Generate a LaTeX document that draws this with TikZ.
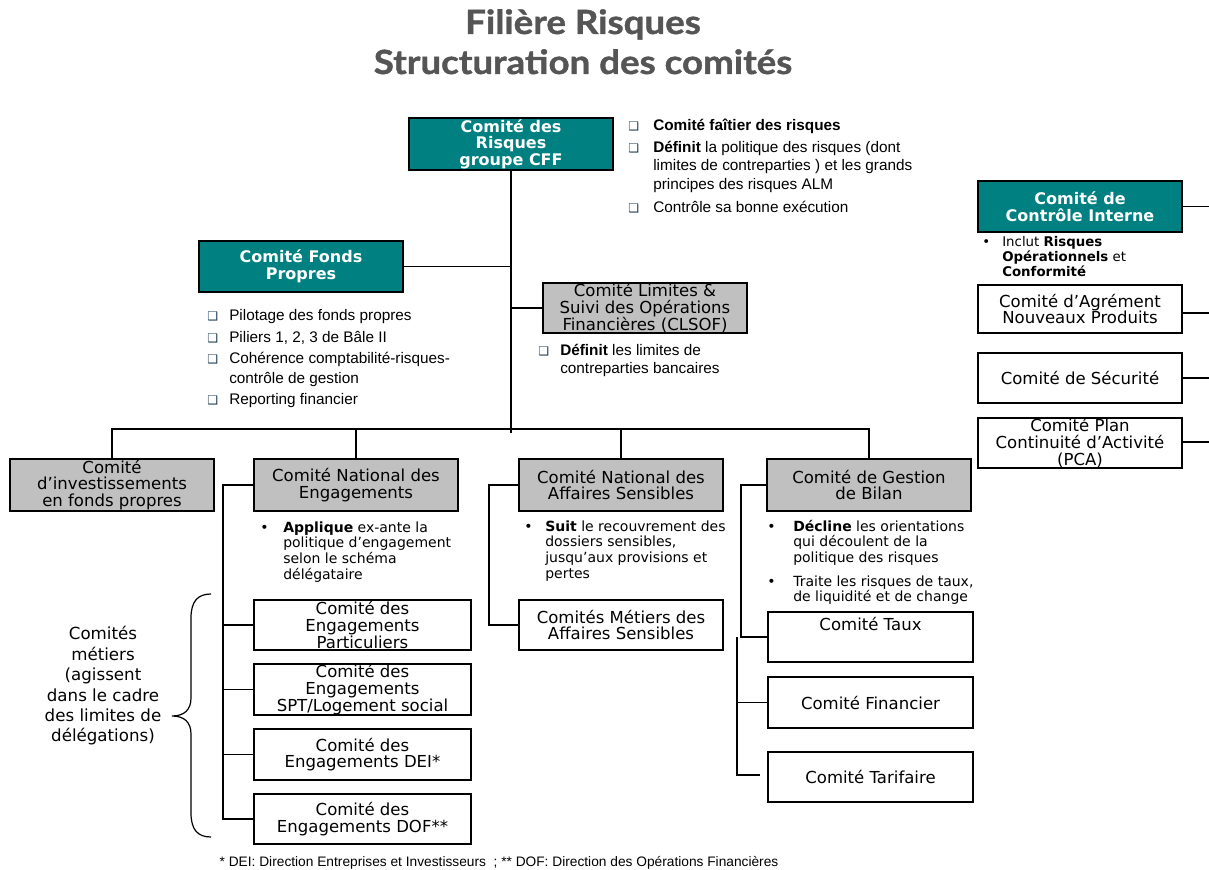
\documentclass[tikz,border=0pt]{standalone}
\usepackage{fontspec}
\setmainfont{DejaVu Sans}
\newfontfamily\dvf{DejaVu Sans}
\newfontfamily\ls{Liberation Sans}
\newfontfamily\lt{Lato}[FakeStretch=1.1, BoldFeatures={FakeBold=1.2}]
\definecolor{tealc}{RGB}{0,128,128}
\definecolor{grayc}{RGB}{192,192,192}
\definecolor{cbc}{RGB}{30,60,80}
\definecolor{titc}{RGB}{85,85,85}
\newcommand{\cbx}{{\dvf\fontsize{9}{9}\selectfont\color{cbc}\symbol{"2751}}}
\newcommand{\bul}{{\dvf\symbol{"2022}}}
\newcommand{\bitem}[4]{\makebox[#1][l]{#2}\parbox[t]{#3}{\raggedright #4}}
\begin{document}
\begin{tikzpicture}[x=0.75pt,y=-0.75pt,
  bx/.style={draw=black, line width=1pt, inner sep=0pt, align=center, text=black,
    font=\fontsize{12.4}{12.6}\selectfont, minimum width=153pt, minimum height=38.25pt},
  tealbx/.style={bx, fill=tealc, text=white, font=\fontsize{12}{12.4}\selectfont\bfseries},
  graybx/.style={bx, fill=grayc},
  whitebx/.style={bx, fill=white},
  widebx/.style={minimum width=162.75pt},
  ln/.style={line width=1pt, draw=black},
  txt/.style={inner sep=0pt, anchor=base west, text=black},
  cbtxt/.style={txt, font=\ls\fontsize{11.5}{14}\selectfont},
  dvtxt/.style={txt, font=\fontsize{10.5}{11.8}\selectfont},
  titlefont/.style={inner sep=0pt, anchor=base, text=titc, font=\lt\bfseries\fontsize{25}{25}\selectfont}
]
\useasboundingbox (0,0) rectangle (1209,870);
\fill[white] (0,0) rectangle (1209,870);

% title
\node[titlefont] (t1) at (583,34) {Filière Risques};
\node[titlefont] (t2) at (583,74) {Structuration des comités};

% boxes
\node[tealbx, minimum height=39pt] (cff) at (511,144) {Comité des\\Risques\\groupe CFF};
\node[tealbx] (fp) at (301,266.5) {Comité Fonds\\Propres};
\node[graybx, minimum height=37.5pt] (clsof) at (645,308) {Comité Limites \&\\Suivi des Opérations\\Financières (CLSOF)};
\node[tealbx] (ci) at (1080,206.5) {Comité de\\Contrôle Interne};
\node[whitebx, minimum height=36pt] (agr) at (1080,309) {Comité d’Agrément\\Nouveaux Produits};
\node[whitebx, minimum height=37.5pt] (sec) at (1080,378) {Comité de Sécurité};
\node[whitebx, minimum height=37.5pt] (pca) at (1080,443) {Comité Plan\\Continuité d’Activité\\(PCA)};

\node[graybx, minimum height=39pt] (inv) at (112,485) {Comité\\d’investissements\\en fonds propres};
\node[graybx, minimum height=39pt] (cne) at (356,485) {Comité National des\\Engagements};
\node[graybx, minimum height=39pt] (cnas) at (621,485) {Comité National des\\Affaires Sensibles};
\node[graybx, minimum height=39pt] (bil) at (869,485) {Comité de Gestion\\de Bilan};

\node[whitebx, widebx, minimum height=37.5pt] (part) at (362.5,625) {Comité des\\Engagements\\Particuliers};
\node[whitebx, widebx] (spt) at (362.5,689.5) {Comité des\\Engagements\\SPT/Logement social};
\node[whitebx, widebx] (dei) at (362.5,754.5) {Comité des\\Engagements DEI*};
\node[whitebx, widebx, minimum height=37.5pt] (dof) at (362.5,819) {Comité des\\Engagements DOF**};

\node[whitebx, minimum height=37.5pt] (met) at (621,625) {Comités Métiers des\\Affaires Sensibles};

\node[whitebx, minimum width=153.75pt, minimum height=37.5pt] (taux) at (870.5,637) {Comité Taux\\[3pt]\strut};
\node[whitebx, minimum width=153.75pt, minimum height=38.25pt] (fin) at (870.5,702.5) {Comité Financier};
\node[whitebx, minimum width=153.75pt, minimum height=37.5pt] (tar) at (870.5,777) {Comité Tarifaire};

% bullet texts
\node[cbtxt] (cffa) at (628,131) {\bitem{18.75pt}{\cbx}{230pt}{\textbf{Comité faîtier des risques}}};
\node[cbtxt] (cffb) at (628,152) {\bitem{18.75pt}{\cbx}{230pt}{\textbf{Définit} la politique des risques (dont\\limites de contreparties ) et les grands\\principes des risques ALM}};
\node[cbtxt] (cffc) at (628,212) {\bitem{18.75pt}{\cbx}{230pt}{Contrôle sa bonne exécution}};

\node[cbtxt, font=\ls\fontsize{11.5}{15}\selectfont] (fpa) at (207,320) {\bitem{16.5pt}{\cbx}{200pt}{Pilotage des fonds propres}};
\node[cbtxt, font=\ls\fontsize{11.5}{15}\selectfont] (fpb) at (207,342) {\bitem{16.5pt}{\cbx}{200pt}{Piliers 1, 2, 3 de Bâle II}};
\node[cbtxt, font=\ls\fontsize{11.5}{15}\selectfont] (fpc) at (207,363) {\bitem{16.5pt}{\cbx}{200pt}{Cohérence comptabilité-risques-\\contrôle de gestion}};
\node[cbtxt, font=\ls\fontsize{11.5}{15}\selectfont] (fpd) at (207,404) {\bitem{16.5pt}{\cbx}{200pt}{Reporting financier}};

\node[cbtxt, font=\ls\fontsize{11.5}{13.5}\selectfont] (cla) at (538,355) {\bitem{16.5pt}{\cbx}{200pt}{\textbf{Définit} les limites de\\contreparties bancaires}};

\node[txt, font=\fontsize{10}{11.6}\selectfont] (cia) at (982,246) {\bitem{15pt}{\bul}{160pt}{Inclut \textbf{Risques}\\\textbf{Opérationnels} et\\\textbf{Conformité}}};

\node[dvtxt] (cnea) at (260,532) {\bitem{17.25pt}{\bul}{170pt}{\textbf{Applique} ex-ante la\\politique d’engagement\\selon le schéma\\délégataire}};
\node[dvtxt] (cnasa) at (524,531) {\bitem{15.75pt}{\bul}{170pt}{\textbf{Suit} le recouvrement des\\dossiers sensibles,\\jusqu’aux provisions et\\pertes}};
\node[dvtxt] (bila) at (767,531) {\bitem{19.5pt}{\bul}{170pt}{\textbf{Décline} les orientations\\qui découlent de la\\politique des risques}};
\node[dvtxt] (bilb) at (767,586) {\bitem{19.5pt}{\bul}{170pt}{Traite les risques de taux,\\de liquidité et de change}};

\node[inner sep=0pt, align=center, font=\fontsize{12.5}{15.3}\selectfont] (metiers) at (103,686) {Comités\\métiers\\(agissent\\dans le cadre\\des limites de\\délégations)};

\node[inner sep=0pt, anchor=base, font=\ls\fontsize{10.3}{11}\selectfont] (foot) at (499,866) {* DEI: Direction Entreprises et Investisseurs\ \ ; ** DOF: Direction des Opérations Financières};

% brace
\draw[line width=0.9pt] (211,594) .. controls (198,594) and (191,601) .. (191,618) -- (191,698)
  .. controls (191,710) and (184,716) .. (172,716)
  .. controls (184,716) and (191,722) .. (191,734) -- (191,813)
  .. controls (191,830) and (198,837) .. (211,837);

% connectors
\draw[ln] (cff.south) -- (cff.south |- 0,433);
\draw[ln] (fp.east) -- (fp.east -| cff.south);
\draw[ln] (clsof.west -| cff.south) -- (clsof.west);
\draw[ln] (inv.north) -- (inv.north |- 0,429) -- (bil.north |- 0,429) -- (bil.north);
\draw[ln] (cne.north) -- (cne.north |- 0,429);
\draw[ln] (cnas.north) -- (cnas.north |- 0,429);

\coordinate (cneX) at (223,0);
\draw[ln] (cne.west) -| (cneX |- dof.west) -- (dof.west);
\foreach \n in {part,spt,dei} {\draw[ln] (cneX |- \n.west) -- (\n.west);}

\coordinate (cnasX) at (489,0);
\draw[ln] (cnas.west) -| (cnasX |- met.west) -- (met.west);

\coordinate (bilX) at (741,0);
\coordinate (bilY) at (737,0);
\coordinate (tarT) at (760,775);
\draw[ln] (bil.west) -| (bilX |- taux.west) -- (taux.west);
\draw[ln] (bilY |- taux.west) -- (bilY |- tarT) -- (tarT);
\draw[ln] (bilY |- fin.west) -- (fin.west);

\coordinate (edge) at (1209,0);
\draw[ln] (ci.east) -- (ci.east -| edge);
\draw[ln] (agr.east |- 0,313) -- (edge |- 0,313);
\draw[ln] (sec.east) -- (sec.east -| edge);
\draw[ln] (pca.east |- 0,442) -- (edge |- 0,442);
\end{tikzpicture}
\end{document}
